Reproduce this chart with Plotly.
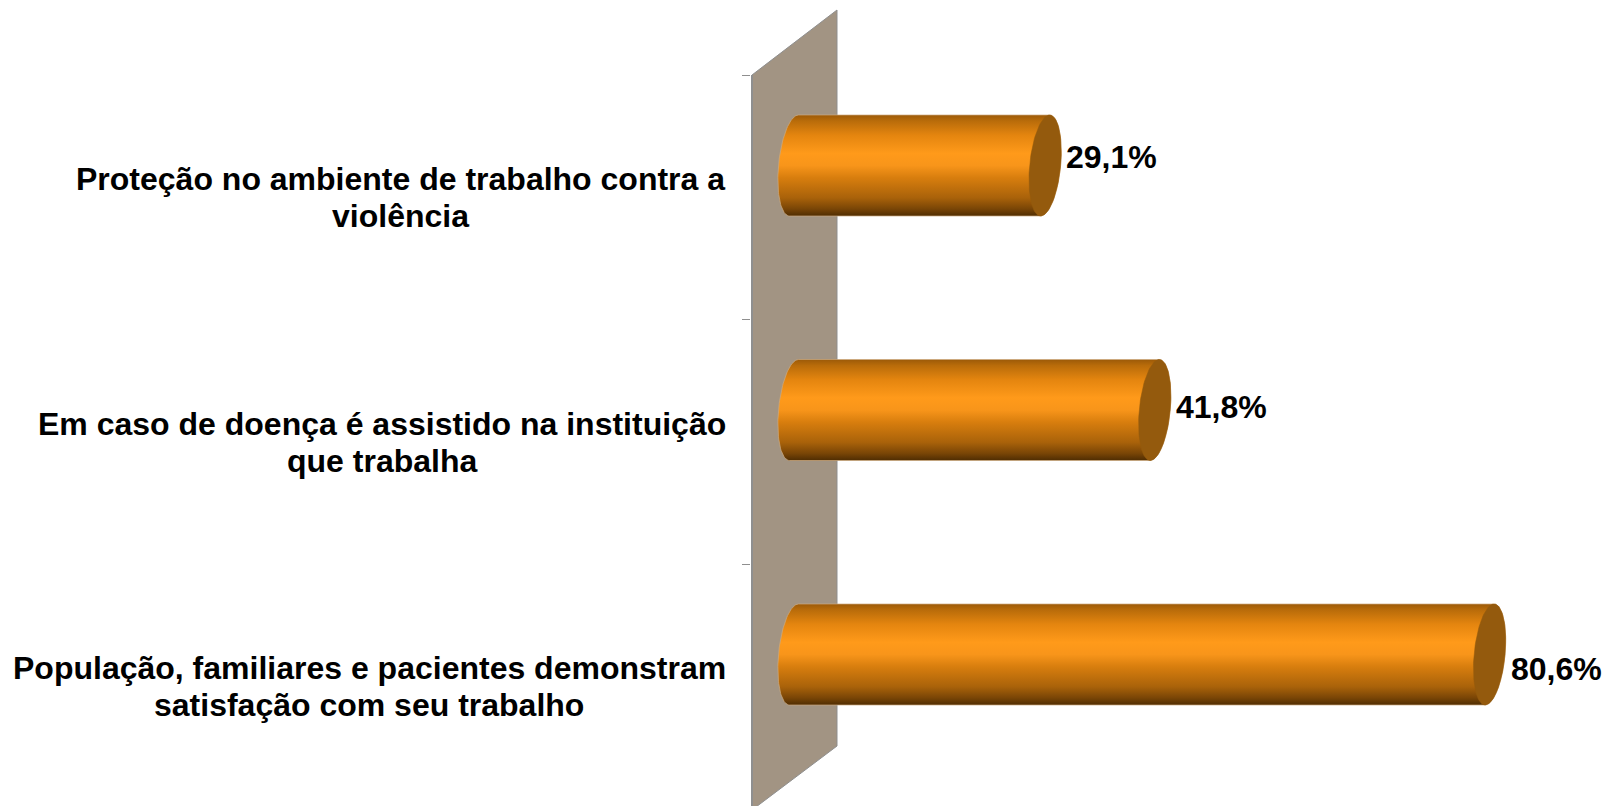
import numpy as np
import plotly.graph_objects as go

# --- data ---
categories = [
    ["Proteção no ambiente de trabalho contra a", "violência"],
    ["Em caso de doença é assistido na instituição", "que trabalha"],
    ["População, familiares e pacientes demonstram", "satisfação com seu trabalho"],
]
values = [29.1, 41.8, 80.6]
value_labels = ["29,1%", "41,8%", "80,6%"]

# --- layout constants ---
W, H = 1604, 806
PLOT_L = 751
X0_PX, PX_PER_UNIT = 794.0, 8.63
Y0_PX, PX_PER_CAT = 165.5, 244.5
FONT = "Liberation Sans, Arial, sans-serif"
FONT_SIZE = 32
LABEL_CENTER_PX = [400, 382, 369]
LABEL_LINE_DY_PX = [13.5, 50.5]
VALUE_DY_PX = [-9, -3, 14]
GRADIENT = [[0.0, "#9C5A08"], [0.06, "#B96C0A"], [0.2, "#E4850F"], [0.38, "#FF9A1A"],
            [0.5, "#F8951A"], [0.62, "#D87E0E"], [0.82, "#A9620A"], [0.93, "#794506"], [1.0, "#4F2D02"]]
CAP = "#945A0D"
EDGE = "rgba(205,170,125,0.7)"
WALL = "#A29483"
WALL_EDGE = "#8F8F8F"

xu = lambda px: px / PX_PER_UNIT
yu = lambda px: px / PX_PER_CAT
R_Y, R_X, SKEW = yu(50.5), xu(15.5), xu(4.5)

fig = go.Figure()

# back wall
wall_left, wall_right = (752 - X0_PX) / PX_PER_UNIT, (837 - X0_PX) / PX_PER_UNIT
tick_vals = [i - yu(90.5) for i in range(len(values))]
fig.add_trace(go.Scatter(
    x=[wall_left, wall_right, wall_right, wall_left, wall_left],
    y=[tick_vals[0], yu(10 - Y0_PX), yu(746 - Y0_PX), yu(810 - Y0_PX), tick_vals[0]],
    mode="lines", fill="toself", fillcolor=WALL, line=dict(color=WALL_EDGE, width=1),
    hoverinfo="skip", showlegend=False))
fig.add_trace(go.Scatter(
    x=[wall_left, wall_left], y=[tick_vals[0], yu(810 - Y0_PX)],
    mode="lines", line=dict(color=WALL_EDGE, width=2), hoverinfo="skip", showlegend=False))

# cylinders
def ell(cx, cy, t):
    return cx + R_X * np.cos(t) - SKEW * np.sin(t), cy + R_Y * np.sin(t)

for i, v in enumerate(values):
    left_t = np.linspace(-np.pi / 2, -3 * np.pi / 2, 60)
    right_t = np.linspace(np.pi / 2, -np.pi / 2, 60)
    lx, ly = ell(0, i, left_t)
    rx, ry = ell(v, i, right_t)
    fig.add_trace(go.Scatter(
        x=np.r_[lx, rx, lx[0]], y=np.r_[ly, ry, ly[0]],
        mode="lines", fill="toself", line=dict(color=EDGE, width=1),
        fillgradient=dict(type="vertical", colorscale=GRADIENT, start=i - R_Y, stop=i + R_Y),
        hoverinfo="skip", showlegend=False))
    t = np.linspace(0, 2 * np.pi, 120)
    cx, cy = ell(v, i, t)
    fig.add_trace(go.Scatter(
        x=cx, y=cy, mode="lines", fill="toself", fillcolor=CAP, line=dict(color=CAP, width=0.5),
        hoverinfo="skip", showlegend=False))

annotations = []
for i, lines in enumerate(categories):
    for line, dy in zip(lines, LABEL_LINE_DY_PX):
        annotations.append(dict(
            text=f"<b>{line}</b>", xref="paper", x=(LABEL_CENTER_PX[i] - PLOT_L) / (W - PLOT_L), xanchor="center",
            yref="y", y=i + yu(dy), yanchor="middle", showarrow=False,
            font=dict(family=FONT, size=FONT_SIZE, color="#000000")))
for i, (v, lab) in enumerate(zip(values, value_labels)):
    annotations.append(dict(
        text=f"<b>{lab}</b>", xref="x", x=v, xshift=19, xanchor="left", yref="y", y=i, yshift=-VALUE_DY_PX[i],
        yanchor="middle", showarrow=False,
        font=dict(family=FONT, size=32, color="#000000")))

fig.update_layout(
    width=W, height=H, margin=dict(l=PLOT_L, r=0, t=0, b=0),
    paper_bgcolor="white", plot_bgcolor="white", showlegend=False,
    font=dict(family=FONT), annotations=annotations,
    xaxis=dict(range=[(PLOT_L - X0_PX) / PX_PER_UNIT, (W - X0_PX) / PX_PER_UNIT], visible=False, fixedrange=True),
    yaxis=dict(range=[(H - Y0_PX) / PX_PER_CAT, -Y0_PX / PX_PER_CAT], tickvals=tick_vals,
               ticktext=["" for _ in tick_vals], ticks="outside", ticklen=8, tickwidth=1, tickcolor=WALL_EDGE,
               showline=False, showgrid=False, zeroline=False, fixedrange=True),
)
fig.write_html("out.html", config=dict(displayModeBar=False),
               post_script="document.body.style.margin='0';")
